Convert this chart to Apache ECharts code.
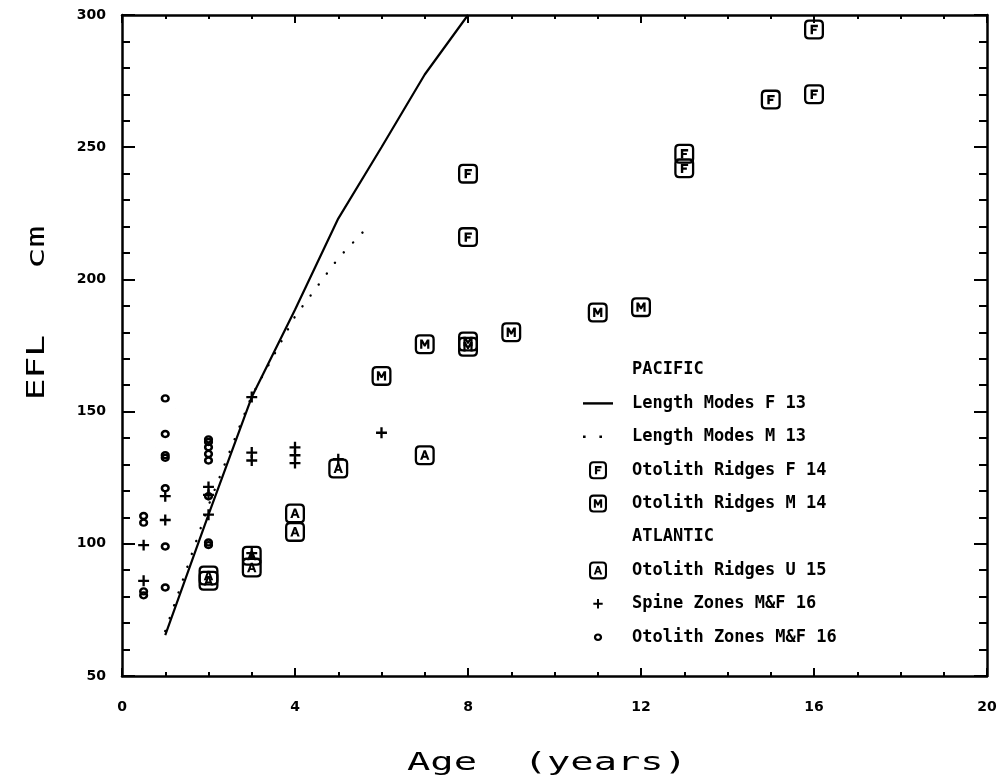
<!DOCTYPE html>
<html><head><meta charset="utf-8">
<script src="https://cdn.jsdelivr.net/npm/echarts@6/dist/echarts.min.js"></script>
<style>html,body{margin:0;padding:0;background:#fff}#c{width:1003px;height:779px}</style>
</head><body><div id="c"></div>
<script>
// ---- data (age in years, EFL in cm) ----
const xTicks = [0, 4, 8, 12, 16, 20];
const yTicks = [50, 100, 150, 200, 250, 300];
const lengthModesF = [[1,65.5],[2,111],[3,155.5],[4,188.5],[5,223],[6,250],[7,277.5],[8,300]];
const lengthModesM = [[1,67],[2,114.5],[3,156],[4,186],[5,208],[5.75,221]];
const otoRidgesF = [[8,240],[8,216],[13,247.5],[13,242],[15,268],[16,270],[16,294.5]];
const otoRidgesM = [[6,163.5],[7,175.5],[8,174.5],[8,176.5],[9,180],[11,187.5],[12,189.5]];
const otoRidgesU = [[2,86],[2,88],[3,91],[3,95.5],[4,104.5],[4,111.5],[5,128.5],[7,133.5]];
const spineZones = [[0.5,86],[0.5,99.5],[1,109],[1,118],[2,111],[2,118.5],[2,121.5],[3,96.5],[3,131.5],[3,134.5],[3,155.5],[4,130.5],[4,133.5],[4,136.5],[5,132],[6,142]];
const otoZones = [[0.5,80.5],[0.5,82],[0.5,108],[0.5,110.5],[1,83.5],[1,99],[1,121],[1,132.5],[1,133.5],[1,141.5],[1,155],[2,99.5],[2,100.5],[2,118],[2,131.5],[2,134],[2,136.5],[2,138.5],[2,139.5]];
const legendNames = ['PACIFIC','Length Modes F 13','Length Modes M 13','Otolith Ridges F 14','Otolith Ridges M 14','ATLANTIC','Otolith Ridges U 15','Spine Zones M&F 16','Otolith Zones M&F 16'];

// ---- symbols (20x20 boxes) ----
const FRAME = 'M5,0 L15,0 Q20,0 20,5 L20,15 Q20,20 15,20 L5,20 Q0,20 0,15 L0,5 Q0,0 5,0 Z ' +
              'M5,2.3 Q2.3,2.3 2.3,5 L2.3,15 Q2.3,17.7 5,17.7 L15,17.7 Q17.7,17.7 17.7,15 L17.7,5 Q17.7,2.3 15,2.3 Z ';
const PADBOX = 'M0,0 L0.05,0 L0,0.05 Z M20,20 L19.95,20 L20,19.95 Z ';
const symF = 'path://' + FRAME + 'M6.6,5.3 L9,5.3 L9,14.6 L6.6,14.6 Z M6.6,5.3 L13.9,5.3 L13.9,7.7 L6.6,7.7 Z M6.6,9.1 L12.6,9.1 L12.6,11.3 L6.6,11.3 Z';
const symM = 'path://' + FRAME + 'M5.4,5.3 L7.8,5.3 L10,9.3 L12.2,5.3 L14.6,5.3 L14.6,14.6 L12.4,14.6 L12.4,9.4 L10.8,12.2 L9.2,12.2 L7.6,9.4 L7.6,14.6 L5.4,14.6 Z';
const symA = 'path://' + FRAME + 'M8.9,5.1 L11.1,5.1 L14.7,14.6 L12.4,14.6 L11.6,12.4 L8.4,12.4 L7.6,14.6 L5.3,14.6 Z M10,7.7 L9.05,10.6 L10.95,10.6 Z';
const symPlus = 'path://' + PADBOX + 'M8.9,4.8 L11.1,4.8 L11.1,8.9 L15.2,8.9 L15.2,11.1 L11.1,11.1 L11.1,15.2 L8.9,15.2 L8.9,11.1 L4.8,11.1 L4.8,8.9 L8.9,8.9 Z';
const symRing = 'path://' + PADBOX + 'M10,5.8 C12.6,5.8 14.6,7.7 14.6,10 C14.6,12.3 12.6,14.2 10,14.2 C7.4,14.2 5.4,12.3 5.4,10 C5.4,7.7 7.4,5.8 10,5.8 Z ' +
              'M10,8.2 C8.9,8.2 8,9 8,10 C8,11 8.9,11.8 10,11.8 C11.1,11.8 12,11 12,10 C12,9 11.1,8.2 10,8.2 Z';
const iconSolid = 'path://M0,0 L30,0 L30,2.4 L0,2.4 Z';
const iconDots = 'path://M0,0 L2.6,0 L2.6,2.6 L0,2.6 Z M16.4,0 L19,0 L19,2.6 L16.4,2.6 Z M30,0 L30,0.02 L29.98,0.02 Z';

const BLACK = '#000';
const labelFont = {fontFamily: 'DejaVu Sans', fontWeight: 'bold', fontSize: 14, color: BLACK};

function xAx(pos, showLabel) {
  return {
    type: 'value', min: xTicks[0], max: xTicks[xTicks.length - 1], interval: 4, position: pos,
    axisLine: {show: true, onZero: false, lineStyle: {color: BLACK, width: 2.5}},
    axisTick: {show: true, inside: true, length: 8, lineStyle: {color: BLACK, width: 2}},
    minorTick: {show: true, splitNumber: 4, length: 4, lineStyle: {color: BLACK, width: 2}},
    splitLine: {show: false}, minorSplitLine: {show: false},
    axisLabel: Object.assign({show: showLabel, margin: 24}, labelFont)
  };
}
function yAx(pos, showLabel) {
  return {
    type: 'value', min: yTicks[0], max: yTicks[yTicks.length - 1], interval: 50, position: pos,
    axisLine: {show: true, onZero: false, lineStyle: {color: BLACK, width: 2.5}},
    axisTick: {show: true, inside: true, length: 13, lineStyle: {color: BLACK, width: 2}},
    minorTick: {show: true, splitNumber: 5, length: 8, lineStyle: {color: BLACK, width: 2}},
    splitLine: {show: false}, minorSplitLine: {show: false},
    axisLabel: Object.assign({show: showLabel, margin: 16}, labelFont)
  };
}

function legendItem(n) {
  if (n === 'PACIFIC' || n === 'ATLANTIC') return {name: n, icon: 'none'};
  if (n === 'Length Modes F 13') return {name: n, icon: iconSolid};
  if (n === 'Length Modes M 13') return {name: n, icon: iconDots};
  return n;
}

const chart = echarts.init(document.getElementById('c'), null, {renderer: 'canvas'});
chart.setOption({
  animation: false,
  backgroundColor: '#fff',
  grid: {left: 122, right: 16, top: 15, bottom: 103, containLabel: false},
  xAxis: [xAx('bottom', true), xAx('top', false)],
  yAxis: [yAx('left', true), yAx('right', false)],
  legend: {
    orient: 'vertical', left: 583, top: 361, padding: 0,
    itemWidth: 30, itemHeight: 18, itemGap: 15.4, selectedMode: false,
    textStyle: {fontFamily: 'DejaVu Sans Mono', fontWeight: 'bold', fontSize: 17, color: BLACK, padding: [0, 0, 0, 14], lineHeight: 18},
    data: legendNames.map(legendItem)
  },
  graphic: [
    {type: 'text', x: 547, y: 763, scaleX: 1.55, silent: true,
     style: {text: 'Age  (years)', fontFamily: 'DejaVu Sans Mono', fontSize: 25, fill: BLACK, align: 'center', verticalAlign: 'middle'}},
    {type: 'text', x: 37, y: 313, rotation: Math.PI / 2, scaleX: 1.45, silent: true,
     style: {text: 'EFL   cm', fontFamily: 'DejaVu Sans Mono', fontSize: 25, fill: BLACK, align: 'center', verticalAlign: 'middle'}}
  ],
  series: [
    {name: legendNames[0], type: 'line', data: [], symbol: 'none', lineStyle: {width: 0, opacity: 0}},
    {name: legendNames[1], type: 'line', data: lengthModesF, symbol: 'none', clip: true,
     lineStyle: {color: BLACK, width: 2.2}, itemStyle: {color: BLACK}, z: 3},
    {name: legendNames[2], type: 'line', data: lengthModesM, symbol: 'none', clip: true,
     lineStyle: {color: BLACK, width: 2.4, type: [0.1, 13.5], cap: 'round'}, itemStyle: {color: BLACK}, z: 3},
    {name: legendNames[3], type: 'scatter', data: otoRidgesF, symbol: symF, symbolSize: 20, itemStyle: {color: BLACK, opacity: 1}},
    {name: legendNames[4], type: 'scatter', data: otoRidgesM, symbol: symM, symbolSize: 20, itemStyle: {color: BLACK, opacity: 1}},
    {name: legendNames[5], type: 'line', data: [], symbol: 'none', lineStyle: {width: 0, opacity: 0}},
    {name: legendNames[6], type: 'scatter', data: otoRidgesU, symbol: symA, symbolSize: 20, itemStyle: {color: BLACK, opacity: 1}},
    {name: legendNames[7], type: 'scatter', data: spineZones, symbol: symPlus, symbolSize: 21, itemStyle: {color: BLACK, opacity: 1}},
    {name: legendNames[8], type: 'scatter', data: otoZones, symbol: symRing, symbolSize: 20, itemStyle: {color: BLACK, opacity: 1}}
  ]
});
</script>
</body></html>
